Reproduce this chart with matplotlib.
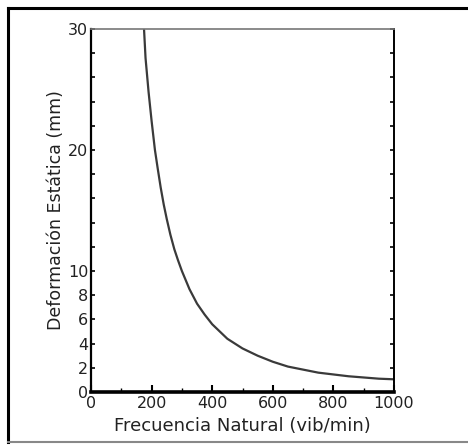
import matplotlib
matplotlib.use("Agg")
import matplotlib.pyplot as plt
from matplotlib.lines import Line2D
import numpy as np

# Data
frecuencia = [175, 180, 190, 200, 211, 220, 230, 240, 250, 262, 275, 287, 300, 325, 350,
              375, 400, 425, 450, 475, 500, 550, 600, 650, 700, 750, 800, 850, 900, 950, 1000]
deformacion = [30.0, 27.6, 24.8, 22.4, 20.0, 18.5, 16.9, 15.5, 14.3, 13.0, 11.8, 10.9, 10.0,
               8.5, 7.3, 6.4, 5.6, 5.0, 4.4, 4.0, 3.6, 3.0, 2.5, 2.1, 1.85, 1.6, 1.45, 1.3,
               1.2, 1.1, 1.05]

x_ticks = [0, 200, 400, 600, 800, 1000]
y_ticks = [0, 2, 4, 6, 8, 10, 20, 30]

fig = plt.figure(figsize=(4.68, 4.45), dpi=100)
ax = fig.add_axes([91/468, 1 - 392/445, (394-91)/468, (392-29)/445])

ax.plot(frecuencia, deformacion, color="#3a3a3a", lw=1.6, solid_joinstyle="round")

ax.set_xlim(0, 1000)
ax.set_ylim(0, 30)
ax.set_xticks(x_ticks)
ax.set_xticks(np.arange(0, 1001, 100), minor=True)
ax.set_yticks(y_ticks)
ax.set_yticks(np.arange(0, 31, 2), minor=True)
ax.tick_params(axis="both", which="both", direction="in", labelsize=11.5, colors="black")
ax.tick_params(axis="x", which="major", length=5, width=1.5, pad=3)
ax.tick_params(axis="x", which="minor", length=3, width=1.0)
ax.tick_params(axis="y", which="both", left=True, right=True, length=3, width=1.2, pad=2)
ax.tick_params(axis="y", which="both", labelleft=True)
for t in ax.yaxis.get_major_ticks() + ax.yaxis.get_minor_ticks():
    t.tick1line.set_color("#cccccc")
for lab in ax.get_xticklabels() + ax.get_yticklabels():
    lab.set_color("#222222")

ax.spines["bottom"].set_linewidth(2.6)
ax.spines["left"].set_linewidth(1.6)
ax.spines["right"].set_linewidth(1.4)
ax.spines["top"].set_linewidth(1.2)
ax.spines["top"].set_color("#777777")

ax.set_xlabel("Frecuencia Natural (vib/min)", fontsize=13, color="#222222", labelpad=4)
ax.set_ylabel("Deformación Estática (mm)", fontsize=12.5, color="#222222", labelpad=2)

# outer frame
fig.add_artist(Line2D([8/468, 1.0], [1 - 8/445, 1 - 8/445], transform=fig.transFigure, color="black", lw=2.2))
fig.add_artist(Line2D([8/468, 8/468], [1 - 8/445, 1 - 442/445], transform=fig.transFigure, color="black", lw=2.2))
fig.add_artist(Line2D([8/468, 1.0], [1 - 442/445, 1 - 442/445], transform=fig.transFigure, color="#888888", lw=1.5))

fig.savefig("out.png", dpi=100)
